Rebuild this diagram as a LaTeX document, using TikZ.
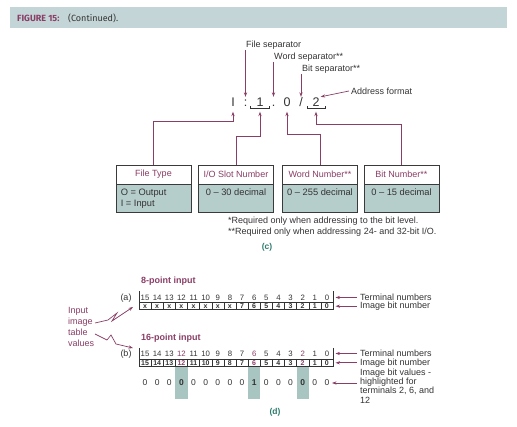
\documentclass[tikz,border=0pt]{standalone}
\usepackage{fontspec}
\setmainfont{Liberation Sans}
\newfontfamily\hdrfont{Fira Sans}
\usetikzlibrary{arrows.meta,calc}
\definecolor{plum}{HTML}{8A3D66}
\definecolor{tealc}{HTML}{2B7A6B}
\definecolor{boxfill}{HTML}{B6CECB}
\definecolor{hdrbar}{HTML}{C4D5D7}
\definecolor{txt}{HTML}{333333}
\definecolor{hilite}{HTML}{A8C5C1}
\definecolor{boxline}{HTML}{3A3A3A}
\tikzset{
 arr/.style={draw=plum, line width=0.7pt, -{Stealth[length=4.5pt,width=3.2pt]}},
 lbl/.style={font=\fontsize{9}{9.3}\selectfont, text=txt, inner sep=0pt},
 bigch/.style={font=\fontsize{12.5}{13}\selectfont, text=txt, inner sep=1pt, text height=9pt, text depth=0pt, anchor=base},
 brk/.style={draw=txt, line width=0.6pt},
 boxhead/.style={draw=boxline, line width=0.9pt, fill=white, minimum width=75pt, minimum height=19pt, inner sep=0pt, text=plum, font=\fontsize{9}{9}\selectfont},
 boxbody/.style={draw=boxline, line width=0.9pt, fill=boxfill, minimum width=75pt, minimum height=28pt, inner sep=0pt},
 boxtxt/.style={font=\fontsize{9.3}{10.5}\selectfont, text=txt, inner sep=0pt},
 partlbl/.style={font=\bfseries\fontsize{8.5}{9}\selectfont, text=tealc, inner sep=0pt},
 ptitle/.style={font=\bfseries\fontsize{9}{9}\selectfont, text=plum, inner sep=0pt, anchor=west},
 tnum/.style={font=\fontsize{7.8}{8}\selectfont, text=txt, inner sep=0pt},
 bnum/.style={font=\bfseries\fontsize{7}{7}\selectfont, text=txt, inner sep=0pt},
 vnum/.style={font=\fontsize{8.5}{8.5}\selectfont, text=txt, inner sep=0pt},
 tblline/.style={draw=txt, line width=0.5pt},
}
\begin{document}
\begin{tikzpicture}[x=1pt,y=-1pt]
\useasboundingbox (0,0) rectangle (517,427);
% header
\fill[hdrbar] (10,7) rectangle (507,28);
\node[anchor=west, inner sep=0pt, font=\hdrfont\bfseries\fontsize{9}{10}\selectfont, text=plum] (fig) at (17,18) {FIGURE 15:};
\node[anchor=west, inner sep=0pt, font=\hdrfont\fontsize{9}{10}\selectfont, text=txt] (cont) at (68,18) {(Continued).};

% address characters
\node[bigch] (I) at (233,107) {I};
\node[bigch] (colon) at (245.5,107) {:};
\node[bigch] (one) at (260,107) {1};
\node[bigch] (dot) at (273.5,107) {.};
\node[bigch] (zero) at (287,107) {0};
\node[bigch] (slash) at (301,107) {/};
\node[bigch] (two) at (316,107) {2};

% top labels
\node[lbl, anchor=south west] (fs) at (246,50) {File separator};
\node[lbl, anchor=south west] (ws) at (274,62) {Word separator**};
\node[lbl, anchor=south west] (bs) at (302,74) {Bit separator**};
\node[lbl, anchor=west] (af) at (351,91) {Address format};
\draw[arr] (fs.south west -| colon.north) -- (colon.north);
\draw[arr] (ws.south west -| dot.north) -- (dot.north);
\draw[arr] (bs.south west -| slash.north) -- (slash.north);
\draw[arr] ([xshift=-2pt]af.west) -- (two.north east);

% brackets
\draw[brk] ($(one.south)+(-9.5,-2)$) -- ++(0,2) -- ++(19,0) -- ++(0,-2);
\draw[brk] ($(two.south)+(-9,-2)$) -- ++(0,2) -- ++(18,0) -- ++(0,-2);

% boxes
\node[boxhead] (ft) at (153.5,174.5) {File Type};
\node[boxbody, anchor=north] (ftb) at (ft.south) {};
\node[boxhead] (io) at (236,174.5) {I/O Slot Number};
\node[boxbody, anchor=north] (iob) at (io.south) {};
\node[boxhead] (wn) at (320,174.5) {Word Number**};
\node[boxbody, anchor=north] (wnb) at (wn.south) {};
\node[boxhead] (bn) at (401.5,174.5) {Bit Number**};
\node[boxbody, anchor=north] (bnb) at (bn.south) {};
\node[boxtxt, align=left, anchor=north west] (ftt) at ($(ftb.north west)+(5,4.5)$) {O = Output\\I = Input};
\node[boxtxt, anchor=north] (iot) at ($(iob.north)+(0,4.5)$) {0 – 30 decimal};
\node[boxtxt, anchor=north] (wnt) at ($(wnb.north)+(0,4.5)$) {0 – 255 decimal};
\node[boxtxt, anchor=north] (bnt) at ($(bnb.north)+(0,4.5)$) {0 – 15 decimal};

% up arrows
\draw[arr] (ft.north) -- ++(0,-43) -| ($(I.south)+(0,3.5)$);
\draw[arr] (io.north) -- ++(0,-28) -| ($(one.south)+(0,3.5)$);
\draw[arr] (wn.north) -- ++(0,-30) -| ($(zero.south)+(0,3.5)$);
\draw[arr] (bn.north) -- ++(0,-40) -| ($(two.south)+(0,3.5)$);

% notes
\node[lbl, anchor=west] (n1) at (228,221) {*Required only when addressing to the bit level.};
\node[lbl, anchor=west] (n2) at (228,232) {**Required only when addressing 24- and 32-bit I/O.};
\node[partlbl] (lc) at (267,247) {(c)};

% ---------- (d) ----------
\node[ptitle] (t8) at (141,281) {8-point input};
\node[lbl] (la) at (126,298) {(a)};
\draw[tblline] (139,302.5) rectangle (333,309.5);
\foreach \k in {1,...,15} \draw[tblline] ({139+12.125*\k},302.5) -- ({139+12.125*\k},309.5);
\draw[tblline] (139,291.5) -- (139,302.5) (333,291.5) -- (333,302.5);
\draw[draw=txt, line width=1pt] (139,309.5) -- (333,309.5);
\foreach \k in {0,...,15}{
  \pgfmathtruncatemacro{\n}{15-\k}
  \pgfmathsetmacro{\cx}{145.06+12.125*\k}
  \node[tnum] (at\k) at (\cx,297.5) {\n};
  \ifnum\k<8
    \node[bnum] (ab\k) at (\cx,306.2) {x};
  \else
    \node[bnum] (ab\k) at (\cx,306.2) {\n};
  \fi
}
\coordinate (tabRa) at (335.5,300);
\node[lbl, anchor=west] (tna) at (360,297.5) {Terminal numbers};
\node[lbl, anchor=west] (iba) at (360,306.2) {Image bit number};
\draw[arr] ([xshift=-3pt]tna.west) -- (tna.west -| tabRa);
\draw[arr] ([xshift=-3pt]iba.west) -- (iba.west -| tabRa);

% left label and zigzags
\node[lbl, text=plum, align=left, anchor=north west, font=\fontsize{9}{11}\selectfont] (iitv) at (68,307.5) {Input\\image\\table\\values};
\coordinate (za0) at (95,323);
\coordinate (za1) at (133,307);
\draw[arr] (za0) -- (108,320) -- (117,313) -- (112,321) -- (za1);
\coordinate (zb0) at (95,334);
\coordinate (zb1) at (133,348);
\draw[arr] (zb0) -- (107,340) -- (111,335) -- (116,344) -- (zb1);

\node[ptitle] (t16) at (141,338) {16-point input};
\node[lbl] (lb) at (126,354) {(b)};
\foreach \k in {3,9,13} \fill[hilite] ({139+12.125*\k},366.5) rectangle ({139+12.125*(\k+1)},399);
\draw[tblline] (139,359) rectangle (333,366.5);
\foreach \k in {1,...,15} \draw[tblline] ({139+12.125*\k},359) -- ({139+12.125*\k},366.5);
\draw[tblline] (139,348) -- (139,359) (333,348) -- (333,359);
\draw[draw=txt, line width=1pt] (139,366.5) -- (333,366.5);
\foreach \k in {0,...,15}{
  \pgfmathtruncatemacro{\n}{15-\k}
  \pgfmathsetmacro{\cx}{145.06+12.125*\k}
  \pgfmathtruncatemacro{\hl}{(\k==3)||(\k==9)||(\k==13)}
  \pgfmathtruncatemacro{\v}{\k==9}
  \ifnum\hl=1
    \node[tnum, text=plum] (bt\k) at (\cx,353.5) {\n};
    \node[bnum, text=plum] (bb\k) at (\cx,362.8) {\n};
    \node[vnum, font=\bfseries\fontsize{8.5}{8.5}\selectfont] (bv\k) at (\cx,383) {\v};
  \else
    \node[tnum] (bt\k) at (\cx,353.5) {\n};
    \node[bnum] (bb\k) at (\cx,362.8) {\n};
    \node[vnum] (bv\k) at (\cx,383) {\v};
  \fi
}
\coordinate (tabRb) at (335.5,360);
\coordinate (valR) at (332,383);
\coordinate (vs) at (357,383);
\node[lbl, anchor=west] (tnb) at (360,353.5) {Terminal numbers};
\node[lbl, anchor=west] (ibb) at (360,362.8) {Image bit number};
\node[lbl, align=left, anchor=north west] (ivb) at (360,368.5) {Image bit values -\\highlighted for\\terminals 2, 6, and\\12};
\draw[arr] ([xshift=-3pt]tnb.west) -- (tnb.west -| tabRb);
\draw[arr] ([xshift=-3pt]ibb.west) -- (ibb.west -| tabRb);
\draw[arr] (vs) -- (valR);
\node[partlbl] (ld) at (275,412) {(d)};
\end{tikzpicture}
\end{document}
